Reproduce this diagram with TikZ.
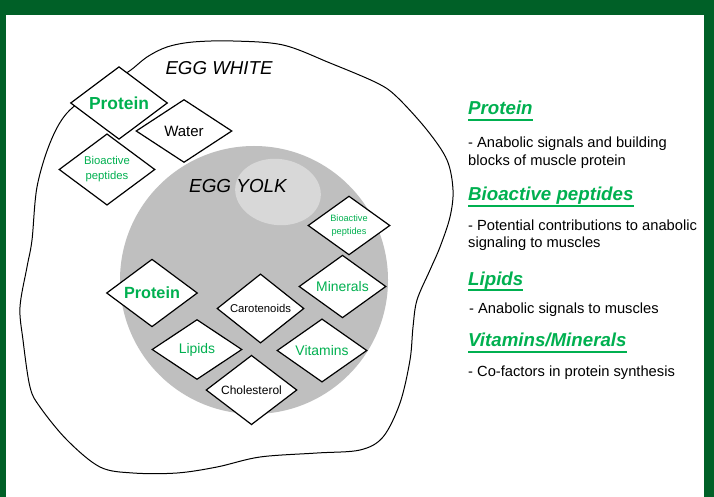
\documentclass[tikz,border=0pt]{standalone}
\usepackage{fontspec}
\setmainfont{Liberation Sans}
\usetikzlibrary{shapes.geometric}

\definecolor{framegreen}{RGB}{0,96,39}
\definecolor{labelgreen}{RGB}{0,176,80}
\definecolor{yolkgray}{RGB}{191,191,191}
\definecolor{yolklight}{RGB}{216,216,216}

\tikzset{
  part/.style={diamond,draw=black,fill=white,line width=1.2pt,inner sep=0pt,align=center},
  head/.style={text=labelgreen,inner sep=0pt,anchor=base west,font=\fontsize{18.7}{22}\selectfont\bfseries\itshape},
  uline/.style={draw=labelgreen,line width=2pt},
  body/.style={inner sep=0pt,anchor=base west,font=\fontsize{14.7}{17.7}\selectfont},
}

\begin{document}
\begin{tikzpicture}[x=1pt,y=-1pt]
\fill[framegreen] (0,0) rectangle (714,497);
\fill[white] (6,15) rectangle (704,497);
% egg white outline
\draw[black,line width=1pt] plot[smooth cycle,tension=.55] coordinates {
  (128,72) (147,57) (167,47) (193,42) (233,41) (283,45) (330,63) (377,83)
  (397,97) (427,130) (447,160) (453,190) (450,217) (440,247) (430,270)
  (417,300) (413,327) (410,360) (400,403) (383,437) (360,450) (317,453)
  (260,457) (217,467) (177,473) (133,473) (100,467) (67,440) (40,407)
  (30,387) (23,340) (20,307) (27,267) (32,240) (37,187) (50,143) (67,113)
  (97,90)};
% yolk
\fill[yolkgray] (254,280) circle (134);
\fill[yolklight,rotate around={-8:(278,192)}] (278,192) ellipse (43 and 33);
\node[font=\fontsize{18.7}{22}\selectfont\itshape,anchor=base] (white) at (219,75) {EGG WHITE};
\node[font=\fontsize{18.9}{22}\selectfont\itshape,anchor=base] (yolk) at (238,192.3) {EGG YOLK};
% egg white parts
\node[part,minimum width=97pt,minimum height=62pt,text=labelgreen,font=\fontsize{17.4}{20}\selectfont\bfseries] (wprot) at (119,103) {Protein};
\node[part,minimum width=96pt,minimum height=63pt,font=\fontsize{15}{18}\selectfont] (water) at (184,131) {Water};
\node[part,minimum width=96pt,minimum height=63pt,text=labelgreen,font=\fontsize{11.3}{15}\selectfont] (wbio) at (107,169.5) {Bioactive\\peptides};
% egg yolk parts
\node[part,minimum width=82pt,minimum height=51pt,text=labelgreen,font=\fontsize{9.2}{13}\selectfont] (ybio) at (349,225.5) {Bioactive\\peptides};
\node[part,minimum width=91pt,minimum height=60pt,text=labelgreen,font=\fontsize{16.2}{19}\selectfont\bfseries] (yprot) at (152,293) {Protein};
\node[part,minimum width=87pt,minimum height=59pt,font=\fontsize{11.3}{14}\selectfont] (carot) at (260.5,308.5) {Carotenoids};
\node[part,minimum width=87pt,minimum height=59pt,text=labelgreen,font=\fontsize{13.9}{16}\selectfont] (miner) at (342.5,286.5) {Minerals};
\node[part,minimum width=90pt,minimum height=60pt,text=labelgreen,font=\fontsize{13.9}{16}\selectfont] (lipid) at (197,349.5) {Lipids};
\node[part,minimum width=90pt,minimum height=60pt,text=labelgreen,font=\fontsize{13.9}{16}\selectfont] (vitam) at (322,350.5) {Vitamins};
\node[part,minimum width=91pt,minimum height=60pt,font=\fontsize{12}{14}\selectfont] (chol) at (251.5,390) {Cholesterol};
% legend
\node[head] (hprot) at (468,115) {Protein};
\draw[uline] ([yshift=-5pt]hprot.base west) -- ([yshift=-5pt]hprot.base east);
\node[body] (tprota) at (468,147.3) {- Anabolic signals and building};
\node[body] (tprotb) at (468,165) {blocks of muscle protein};
\node[head] (hbio) at (468,200.7) {Bioactive peptides};
\draw[uline] ([yshift=-5pt]hbio.base west) -- ([yshift=-5pt]hbio.base east);
\node[body] (tbioa) at (468,230) {- Potential contributions to anabolic};
\node[body] (tbiob) at (468,247.3) {signaling to muscles};
\node[head] (hlip) at (468,285) {Lipids};
\draw[uline] ([yshift=-5pt]hlip.base west) -- ([yshift=-5pt]hlip.base east);
\node[body] (tlip) at (469,313.3) {- Anabolic signals to muscles};
\node[head] (hvit) at (468,346.7) {Vitamins/Minerals};
\draw[uline] ([yshift=-5pt]hvit.base west) -- ([yshift=-5pt]hvit.base east);
\node[body] (tvit) at (468,376) {- Co-factors in protein synthesis};
\end{tikzpicture}
\end{document}
